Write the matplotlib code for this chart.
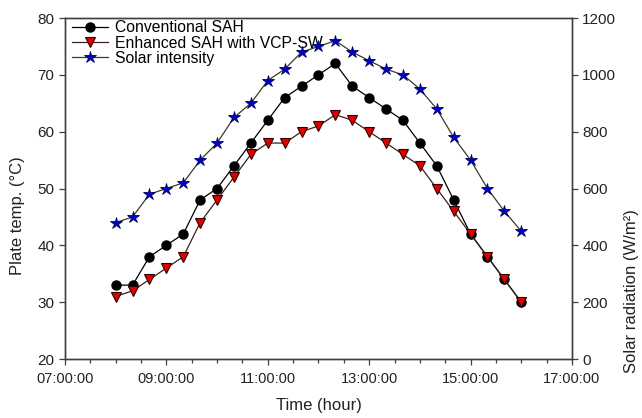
import matplotlib
matplotlib.use("Agg")
import matplotlib.pyplot as plt
from matplotlib.ticker import FixedLocator, MultipleLocator, FuncFormatter

plt.rcParams['font.family'] = ['Liberation Sans', 'DejaVu Sans']

# Measurement times (hh:mm), 20-minute intervals
times = ["08:00", "08:20", "08:40", "09:00", "09:20", "09:40", "10:00", "10:20",
         "10:40", "11:00", "11:20", "11:40", "12:00", "12:20", "12:40", "13:00",
         "13:20", "13:40", "14:00", "14:20", "14:40", "15:00", "15:20", "15:40",
         "16:00"]

conventional_sah = [33, 33, 38, 40, 42, 48, 50, 54, 58, 62, 66, 68, 70, 72,
                    68, 66, 64, 62, 58, 54, 48, 42, 38, 34, 30]
enhanced_sah = [31, 32, 34, 36, 38, 44, 48, 52, 56, 58, 58, 60, 61, 63,
                62, 60, 58, 56, 54, 50, 46, 42, 38, 34, 30]
solar_intensity = [480, 500, 580, 600, 620, 700, 760, 850, 900, 980, 1020, 1080,
                   1100, 1120, 1080, 1050, 1020, 1000, 950, 880, 780, 700, 600,
                   520, 450]

hour_ticks = [7, 9, 11, 13, 15, 17]

hours = [int(t[:2]) + int(t[3:]) / 60 for t in times]

fig = plt.figure(figsize=(6.42, 4.18), dpi=100)
ax = fig.add_axes([0.1012, 0.1411, 0.7897, 0.8158])
ax2 = ax.twinx()

spine_color = '#404040'
text_color = '#222222'

l1, = ax.plot(hours, conventional_sah, color='black', lw=0.9, marker='o',
              markersize=6.5, markerfacecolor='black', markeredgecolor='black',
              label='Conventional SAH', zorder=3)
l2, = ax.plot(hours, enhanced_sah, color='#3a2020', lw=0.9, marker='v',
              markersize=6.5, markerfacecolor='#e00000', markeredgecolor='#300000',
              markeredgewidth=0.8, label='Enhanced SAH with VCP-SW', zorder=3)
l3, = ax2.plot(hours, solar_intensity, color='#3c3c20', lw=0.9, marker='*',
               markersize=9, markerfacecolor='#0000cc', markeredgecolor='#000060',
               markeredgewidth=0.6, label='Solar intensity', zorder=3)

ax.set_xlim(7, 17)
ax.set_ylim(20, 80)
ax2.set_ylim(0, 1200)

ax.xaxis.set_major_locator(FixedLocator(hour_ticks))
ax.xaxis.set_minor_locator(MultipleLocator(0.5))
ax.xaxis.set_major_formatter(FuncFormatter(lambda v, p: f"{int(round(v)):02d}:00:00"))
ax.yaxis.set_major_locator(MultipleLocator(10))
ax2.yaxis.set_major_locator(MultipleLocator(200))

for a in (ax, ax2):
    for s in a.spines.values():
        s.set_color(spine_color)
        s.set_linewidth(1.0)
    a.tick_params(axis='both', which='major', direction='out', length=4,
                  width=0.9, color=spine_color, labelsize=11, labelcolor=text_color)
    a.tick_params(axis='both', which='minor', direction='out', length=3,
                  width=0.9, color=spine_color)

ax.tick_params(axis='x', which='major', labelsize=10.5, pad=5)

ax.set_xlabel('Time (hour)', fontsize=12, color=text_color, labelpad=9)
ax.set_ylabel('Plate temp. (\u00b0C)', fontsize=12, color=text_color)
ax2.set_ylabel('Solar radiation (W/m\u00b2)', fontsize=12, color=text_color)
ax.yaxis.set_label_coords(-0.078, 0.42)
ax2.yaxis.set_label_coords(1.103, 0.20)

leg = ax.legend(handles=[l1, l2, l3], loc='upper left', frameon=False,
                fontsize=11.3, handlelength=2.3, handletextpad=0.4,
                labelspacing=0.02, borderaxespad=0.0,
                bbox_to_anchor=(0.002, 1.012))

fig.savefig('out.png', dpi=100)
